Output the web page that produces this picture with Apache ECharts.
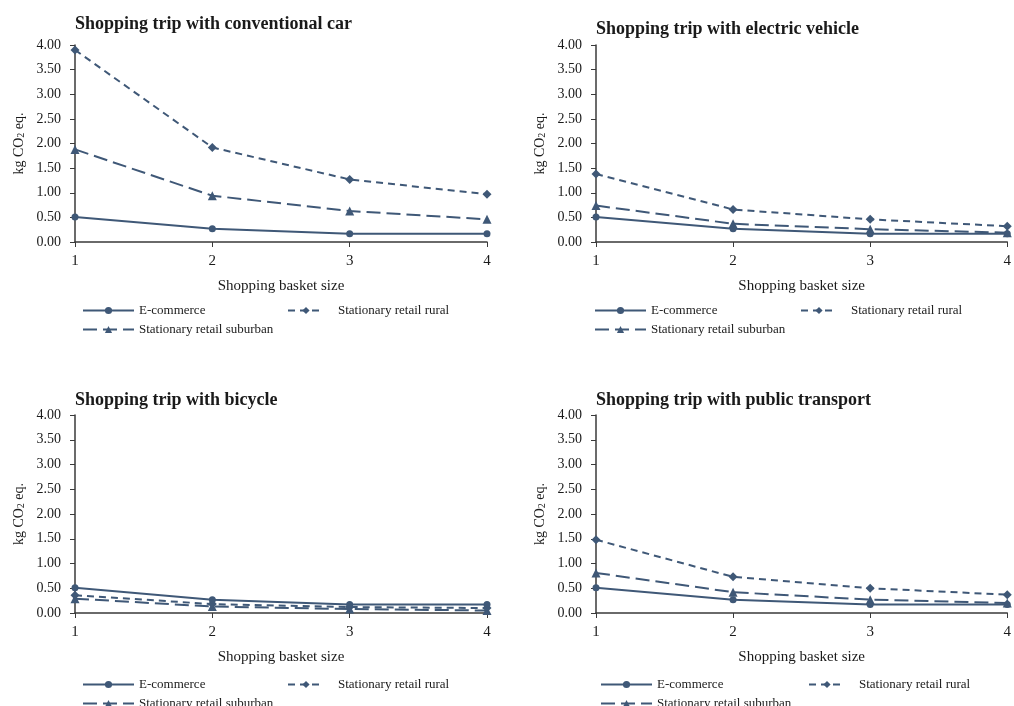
<!DOCTYPE html>
<html>
<head>
<meta charset="utf-8">
<script src="https://cdn.jsdelivr.net/npm/echarts@6/dist/echarts.min.js"></script>
<style>html,body{margin:0;padding:0;background:#fff}#c{width:1014px;height:706px}</style>
</head>
<body>
<div id="c"></div>
<script>
// ---- data ----
const basketSizes = ['1', '2', '3', '4'];
const seriesNames = ['E-commerce', 'Stationary retail rural', 'Stationary retail suburban'];
const panelTitles = [
  'Shopping trip with conventional car',
  'Shopping trip with electric vehicle',
  'Shopping trip with bicycle',
  'Shopping trip with public transport'
];
const yTicks = [0, 0.5, 1, 1.5, 2, 2.5, 3, 3.5, 4];
// conventional car
const carEcommerce = [0.51, 0.27, 0.17, 0.17];
const carRural     = [3.90, 1.92, 1.27, 0.97];
const carSuburban  = [1.88, 0.94, 0.63, 0.46];
// electric vehicle
const evEcommerce  = [0.51, 0.27, 0.17, 0.17];
const evRural      = [1.38, 0.66, 0.46, 0.32];
const evSuburban   = [0.74, 0.37, 0.26, 0.19];
// bicycle
const bikeEcommerce = [0.51, 0.27, 0.17, 0.17];
const bikeRural     = [0.36, 0.18, 0.12, 0.10];
const bikeSuburban  = [0.29, 0.13, 0.08, 0.05];
// public transport
const ptEcommerce  = [0.51, 0.27, 0.17, 0.17];
const ptRural      = [1.48, 0.73, 0.50, 0.37];
const ptSuburban   = [0.81, 0.42, 0.27, 0.20];

const panelData = [
  [carEcommerce, carRural, carSuburban],
  [evEcommerce, evRural, evSuburban],
  [bikeEcommerce, bikeRural, bikeSuburban],
  [ptEcommerce, ptRural, ptSuburban]
];

// ---- layout & style ----
const FONT = '"Liberation Serif", "DejaVu Serif", serif';
const COLOR = '#3f5877';
const AXIS = '#3a3a3a';
const TEXT = '#1a1a1a';
const panels = [
  { left: 75, width: 412, top: 45, height: 197, titleX: 70, titleY: 10, legX: 77, legX2: 282, legY: 299 },
  { left: 596, width: 415, top: 45, height: 197, titleX: 591, titleY: 15, legX: 589, legX2: 795, legY: 299 },
  { left: 75, width: 412, top: 415, height: 198, titleX: 70, titleY: 386, legX: 77, legX2: 282, legY: 673 },
  { left: 596, width: 415, top: 415, height: 198, titleX: 591, titleY: 386, legX: 595, legX2: 803, legY: 673 }
];
const symbols = ['circle', 'diamond', 'triangle'];
const symbolSizes = [7, 9, 9];
const dashes = ['solid', [7, 5], [14, 6]];

const grid = [], xAxis = [], yAxis = [], title = [], series = [], legend = [];
panels.forEach((p, i) => {
  grid.push({ left: p.left, top: p.top, width: p.width, height: p.height, containLabel: false });
  title.push({
    text: panelTitles[i], left: p.titleX, top: p.titleY,
    textStyle: { fontFamily: FONT, fontSize: 18, fontWeight: 'bold', color: TEXT }
  });
  xAxis.push({
    type: 'category', gridIndex: i, data: basketSizes, boundaryGap: false,
    name: 'Shopping basket size', nameLocation: 'middle', nameGap: 37,
    nameTextStyle: { fontFamily: FONT, fontSize: 15, color: TEXT },
    axisLine: { lineStyle: { color: AXIS, width: 1.5 } },
    axisTick: { show: true, length: 5, lineStyle: { color: AXIS } },
    axisLabel: { fontFamily: FONT, fontSize: 15, color: TEXT, margin: 12 },
    splitLine: { show: false }
  });
  yAxis.push({
    type: 'value', gridIndex: i, min: 0, max: 4, interval: 0.5,
    name: 'kg CO{sub|2} eq.', nameLocation: 'middle', nameGap: 49,
    nameTextStyle: { fontFamily: FONT, fontSize: 14, color: TEXT,
      rich: { sub: { fontFamily: FONT, fontSize: 10, color: TEXT, verticalAlign: 'bottom', padding: [4, 0, 0, 0] } } },
    axisLine: { show: true, lineStyle: { color: AXIS, width: 1.5 } },
    axisTick: { show: true, length: 5, lineStyle: { color: AXIS } },
    axisLabel: { fontFamily: FONT, fontSize: 14, color: TEXT, margin: 14, formatter: v => v.toFixed(2) },
    splitLine: { show: false }
  });
  seriesNames.forEach((name, k) => {
    series.push({
      type: 'line', name: name, xAxisIndex: i, yAxisIndex: i,
      data: panelData[i][k],
      symbol: symbols[k], symbolSize: symbolSizes[k],
      lineStyle: { color: COLOR, width: 2, type: dashes[k] },
      itemStyle: { color: COLOR },
      z: 3 - k, animation: false
    });
  });
  const legBase = {
    selectedMode: false, itemHeight: 9,
    textStyle: { fontFamily: FONT, fontSize: 13, color: TEXT }
  };
  legend.push(Object.assign({}, legBase, { left: p.legX, top: p.legY, itemWidth: 51, data: [seriesNames[0]] }));
  legend.push(Object.assign({}, legBase, { left: p.legX2, top: p.legY, itemWidth: 36, data: [seriesNames[1]],
    textStyle: { fontFamily: FONT, fontSize: 13, color: TEXT, padding: [0, 0, 0, 9] } }));
  legend.push(Object.assign({}, legBase, { left: p.legX, top: p.legY + 19, itemWidth: 51, data: [seriesNames[2]] }));
});

const chart = echarts.init(document.getElementById('c'), null, { renderer: 'canvas' });
chart.setOption({
  backgroundColor: '#ffffff',
  animation: false,
  title, grid, xAxis, yAxis, legend, series
});
</script>
</body>
</html>
